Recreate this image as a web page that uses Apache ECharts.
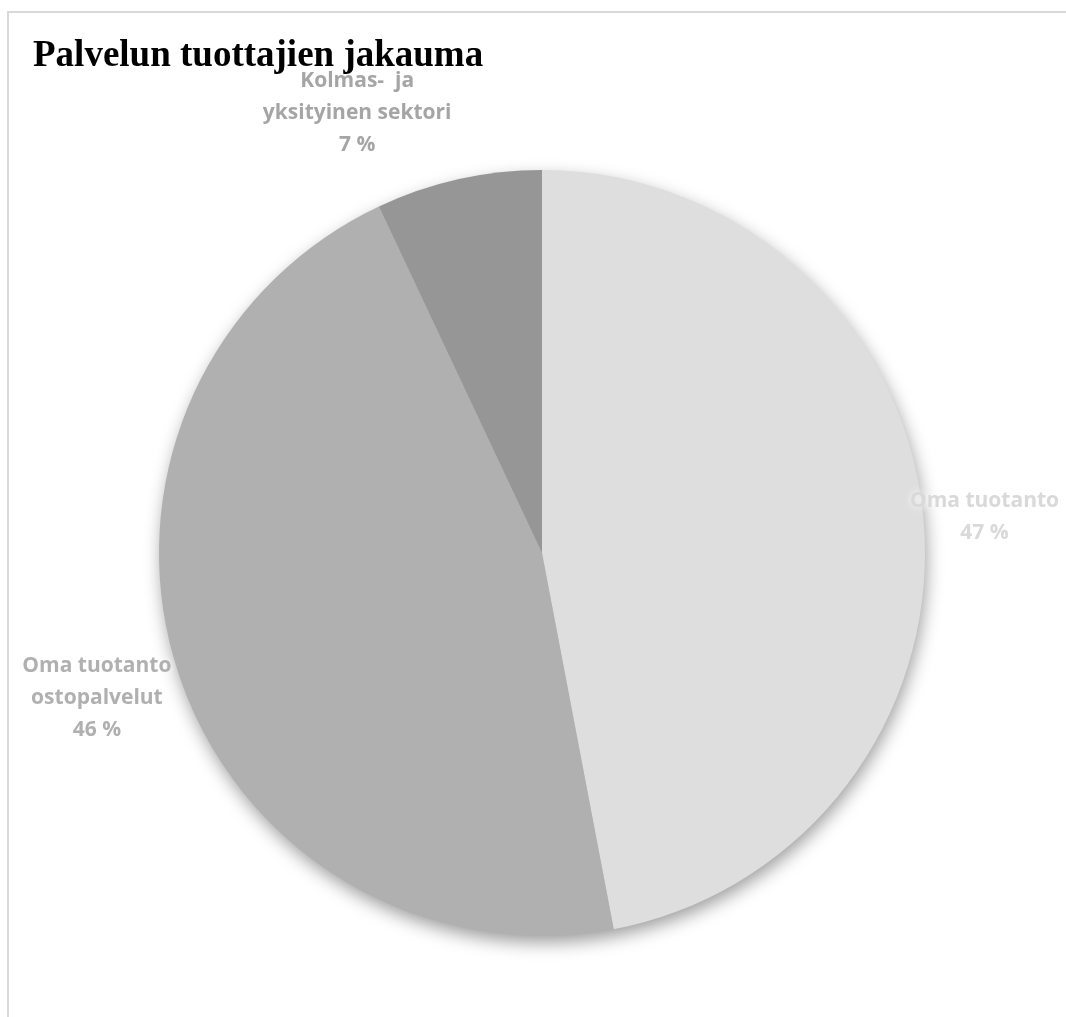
<!DOCTYPE html>
<html>
<head>
<meta charset="utf-8">
<script src="https://cdn.jsdelivr.net/npm/echarts@6/dist/echarts.min.js"></script>
<style>
html,body{margin:0;padding:0;background:#fff;}
#chart{width:1066px;height:1017px;}
</style>
</head>
<body>
<div id="chart"></div>
<script>
const titleText = 'Palvelun tuottajien jakauma';
const categories = ['Oma tuotanto', 'Oma tuotanto\nostopalvelut', 'Kolmas-  ja\nyksityinen sektori'];
const values = [47, 46, 7];
const sliceColors = ['#dedede', '#b0b0b0', '#969696'];
const labelColors = ['#d9d9d9', '#b0b0b0', '#a5a5a5'];

const CX = 542, CY = 553, R = 383;
// label placement: radius from centre and angular shift (degrees) from slice middle
const labelRadii = [444, 468, 477];
const labelShift = [0.7, 0, -10.2];
const total = values.reduce((a, b) => a + b, 0);
const midAngles = [];
let acc = 0;
values.forEach(v => { midAngles.push((acc + v / 2) / total * 2 * Math.PI); acc += v; });

const chart = echarts.init(document.getElementById('chart'));
chart.setOption({
  backgroundColor: '#ffffff',
  animation: false,
  title: {
    text: titleText,
    left: 33, top: 38, padding: 0,
    textStyle: { fontFamily: 'Liberation Serif', fontWeight: 'bold', fontSize: 37, color: '#000000' }
  },
  graphic: [{
    type: 'rect', z: -10,
    shape: { x: 8, y: 12, width: 1100, height: 1100 },
    style: { fill: 'none', stroke: '#d9d9d9', lineWidth: 2 }
  }, {
    // soft drop shadow underneath the whole pie
    type: 'circle', z: -5,
    shape: { cx: CX, cy: CY, r: R - 1 },
    style: { fill: '#c8c8c8', shadowBlur: 18, shadowOffsetX: 2, shadowOffsetY: 7, shadowColor: 'rgba(0,0,0,0.4)' }
  }],
  series: [{
    type: 'pie',
    z: 2,
    center: [CX, CY],
    radius: [0, R],
    startAngle: 90,
    clockwise: true,
    data: categories.map((c, i) => ({
      name: c, value: values[i],
      itemStyle: { color: sliceColors[i] },
      label: { color: labelColors[i] }
    })),
    itemStyle: { borderWidth: 0 },
    label: {
      show: true,
      position: 'outside',
      overflow: 'none',
      formatter: p => p.name + '\n' + Math.round(p.percent) + ' %',
      fontFamily: 'Open Sans', fontWeight: 'bold', fontSize: 21, lineHeight: 32,
      align: 'center',
      textShadowColor: '#ffffff', textShadowBlur: 8
    },
    labelLine: { show: false },
    labelLayout: function (params) {
      const i = params.dataIndex;
      const a = midAngles[i] + labelShift[i] * Math.PI / 180;
      return {
        x: CX + labelRadii[i] * Math.sin(a),
        y: CY - labelRadii[i] * Math.cos(a),
        align: 'center',
        verticalAlign: 'middle',
        width: 400
      };
    },
    emphasis: { disabled: true }
  }]
});
</script>
</body>
</html>
